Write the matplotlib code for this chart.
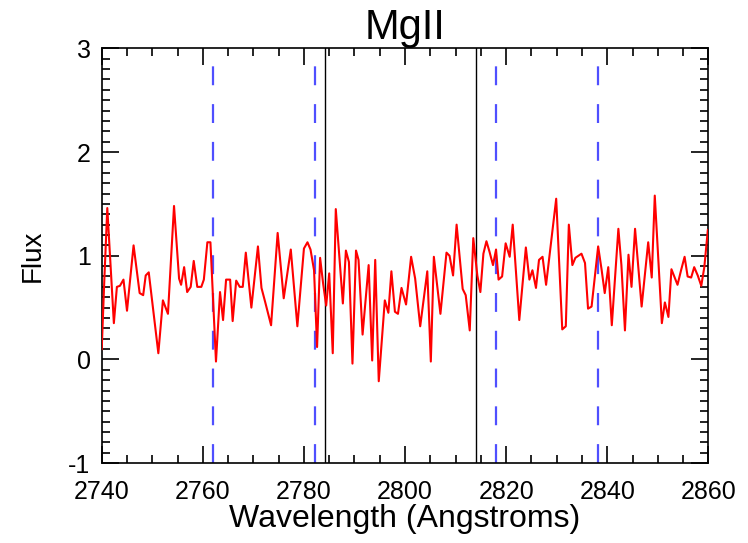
import matplotlib
matplotlib.use("Agg")
import matplotlib.pyplot as plt
from matplotlib.ticker import MultipleLocator

plt.rcParams['font.family'] = ['Liberation Sans', 'DejaVu Sans']
plt.rcParams['axes.unicode_minus'] = False

# spektrum
wave = [2740.0, 2740.5, 2741.1, 2742.4, 2743.0, 2743.6, 2744.3, 2745.0, 2746.3, 2747.5,
        2748.2, 2748.7, 2749.3, 2751.2, 2752.1, 2753.1, 2754.3, 2755.3, 2755.7, 2756.3,
        2756.9, 2757.6, 2758.2, 2758.9, 2759.7, 2760.2, 2760.9, 2761.5, 2762.6, 2763.4,
        2764.0, 2764.6, 2765.4, 2765.9, 2766.6, 2767.3, 2767.9, 2768.5, 2769.6, 2770.9,
        2771.6, 2772.3, 2773.5, 2774.8, 2776.0, 2777.4, 2778.7, 2780.0, 2780.7, 2781.3,
        2782.0, 2782.6, 2783.2, 2783.8, 2784.4, 2785.0, 2785.7, 2786.3, 2787.7, 2788.3,
        2788.9, 2789.6, 2790.3, 2790.8, 2791.6, 2792.8, 2793.5, 2794.1, 2794.8, 2796.0,
        2796.7, 2797.3, 2798.0, 2798.6, 2799.3, 2800.2, 2801.2, 2802.0, 2803.0, 2804.4,
        2805.1, 2805.7, 2807.0, 2808.2, 2808.8, 2809.5, 2810.2, 2811.4, 2812.0, 2812.8,
        2813.5, 2814.3, 2814.9, 2815.5, 2816.1, 2816.7, 2817.4, 2818.0, 2818.5, 2819.2,
        2819.9, 2820.7, 2821.3, 2822.6, 2823.9, 2824.6, 2825.2, 2825.9, 2826.5, 2827.2,
        2827.9, 2829.9, 2831.1, 2831.8, 2832.4, 2833.1, 2833.7, 2834.9, 2835.6, 2836.2,
        2836.9, 2838.2, 2838.9, 2839.5, 2840.2, 2840.9, 2842.2, 2842.8, 2843.5, 2844.2,
        2844.8, 2845.5, 2846.8, 2848.1, 2848.8, 2849.4, 2850.8, 2851.4, 2852.1, 2852.7,
        2853.9, 2854.6, 2855.3, 2855.9, 2856.6, 2857.2, 2857.9, 2858.6, 2859.2, 2859.9,
        2860.4]
flux = [0.10, 0.75, 1.46, 0.35, 0.70, 0.71, 0.77, 0.47, 1.10, 0.64,
        0.62, 0.81, 0.84, 0.06, 0.57, 0.44, 1.48, 0.78, 0.72, 0.89,
        0.65, 0.70, 0.95, 0.70, 0.70, 0.77, 1.13, 1.13, -0.02, 0.65,
        0.38, 0.77, 0.77, 0.37, 0.76, 0.70, 0.70, 1.03, 0.50, 1.09,
        0.69, 0.56, 0.33, 1.22, 0.59, 1.06, 0.32, 1.07, 1.13, 1.06,
        0.86, 0.12, 0.98, 0.73, 0.52, 0.83, 0.06, 1.45, 0.54, 1.05,
        0.94, -0.04, 1.05, 0.96, 0.24, 0.91, -0.01, 0.96, -0.21, 0.57,
        0.45, 0.85, 0.46, 0.44, 0.69, 0.53, 0.99, 0.78, 0.32, 0.85,
        -0.02, 0.99, 0.44, 1.03, 1.00, 0.81, 1.30, 0.68, 0.62, 0.28,
        1.17, 0.81, 0.65, 1.02, 1.14, 1.04, 0.91, 1.06, 0.77, 0.80,
        1.12, 0.99, 1.30, 0.38, 1.08, 0.77, 0.86, 0.69, 0.96, 0.99,
        0.72, 1.55, 0.29, 0.32, 1.30, 0.91, 0.98, 1.02, 0.93, 0.49,
        0.51, 1.09, 0.86, 0.64, 0.89, 0.33, 1.26, 0.91, 0.28, 1.01,
        0.70, 1.26, 0.51, 1.13, 0.79, 1.58, 0.35, 0.55, 0.41, 0.87,
        0.72, 0.86, 0.99, 0.80, 0.79, 0.89, 0.81, 0.71, 0.89, 1.25,
        1.05]

blue_lines = [2762.0, 2782.1, 2818.0, 2838.2]
black_lines = [2784.2, 2814.1]

fig = plt.figure(figsize=(7.48, 5.43), dpi=100)
ax = fig.add_axes([0.136, 0.147, 0.811, 0.764])

ax.plot(wave, flux, color='red', lw=1.5, zorder=3)
for w in blue_lines:
    ax.axvline(w, color='#4f4fff', lw=1.6, dashes=(8.5, 8.5), zorder=2)
for w in black_lines:
    ax.axvline(w, color='black', lw=1.0, zorder=2)

ax.set_xlim(2740, 2860)
ax.set_ylim(-1, 3)
ax.xaxis.set_major_locator(MultipleLocator(20))
ax.xaxis.set_minor_locator(MultipleLocator(5))
ax.yaxis.set_major_locator(MultipleLocator(1))
ax.yaxis.set_minor_locator(MultipleLocator(0.1))
ax.tick_params(which='both', direction='in', top=True, right=True, labelsize=18, width=1.2)
ax.tick_params(which='major', length=12)
ax.tick_params(axis='x', which='major', pad=12)
ax.tick_params(axis='y', which='major', pad=8)
ax.tick_params(which='minor', length=6)
for s in ax.spines.values():
    s.set_linewidth(1.2)

ax.set_xlabel('Wavelength (Angstroms)', fontsize=23, labelpad=0)
ax.set_ylabel('Flux', fontsize=20, labelpad=16)
ax.set_title('MgII', fontsize=30, pad=6)

fig.savefig('out.png', dpi=100)
